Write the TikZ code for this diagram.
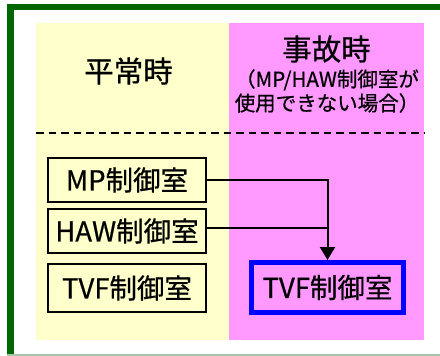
\documentclass[tikz,border=0pt]{standalone}
\usepackage{fontspec}
\setmainfont{Noto Sans CJK JP}[FakeBold=0.6]
\usetikzlibrary{arrows.meta}
\definecolor{framegreen}{HTML}{006600}
\definecolor{framelight}{HTML}{A8C4A8}
\definecolor{normalbg}{HTML}{FFFFCC}
\definecolor{accidentbg}{HTML}{FF99FF}
\definecolor{tvfblue}{HTML}{0000FF}
\tikzset{
  roombox/.style={draw=black, line width=2pt, inner sep=0pt, minimum width=158pt,
    font=\fontsize{27.5}{30}\selectfont},
  tvfbox/.style={draw=tvfblue, line width=5pt, inner sep=0pt, minimum width=152pt, minimum height=50pt,
    font=\fontsize{27.5}{30}\selectfont},
  headtext/.style={inner sep=0pt, font=\fontsize{29.5}{32}\selectfont},
  subtext/.style={inner sep=0pt, align=center, font=\fontsize{20.5}{24}\selectfont},
  link/.style={draw=black, line width=2pt},
}
\begin{document}
\begin{tikzpicture}[x=1pt, y=-1pt]
  \useasboundingbox (0,0) rectangle (440,356);
  \fill[white] (0,0) rectangle (440,356);
  % frame
  \fill[framegreen] (7,3.5) rectangle (440,10);
  \fill[framegreen] (7,3.5) rectangle (13.5,356);
  \fill[framelight] (7,354) rectangle (440,355.5);
  % panels
  \fill[normalbg] (36,23) rectangle (229,340);
  \fill[accidentbg] (229,23) rectangle (424,340);
  % headings
  \node[headtext] (normal) at (128.5,71) {平常時};
  \node[headtext] (accident) at (326.5,49) {事故時};
  \node[subtext] (cond) at (327,91) {（MP/HAW制御室が\\使用できない場合）};
  % dashed separator
  \coordinate (sepL) at (36,133);
  \coordinate (sepR) at (424,133);
  \draw[line width=2pt, dash pattern=on 7.5pt off 5pt] (sepL) -- (sepR);
  % rooms
  \node[roombox, minimum height=44pt] (mp) at (127,180) {MP制御室};
  \node[roombox, minimum height=44pt] (haw) at (127,231) {HAW制御室};
  \node[roombox, minimum height=48pt] (tvf) at (127,288) {TVF制御室};
  \node[tvfbox] (tvf2) at (327.5,287.5) {TVF制御室};
  % connectors
  \draw[link, -{Triangle[width=15pt, length=13pt]}] (mp.east) -| (tvf2.north);
  \draw[link] ([yshift=3pt]haw.east) -- ([yshift=3pt]haw.east -| tvf2.north);
\end{tikzpicture}
\end{document}
